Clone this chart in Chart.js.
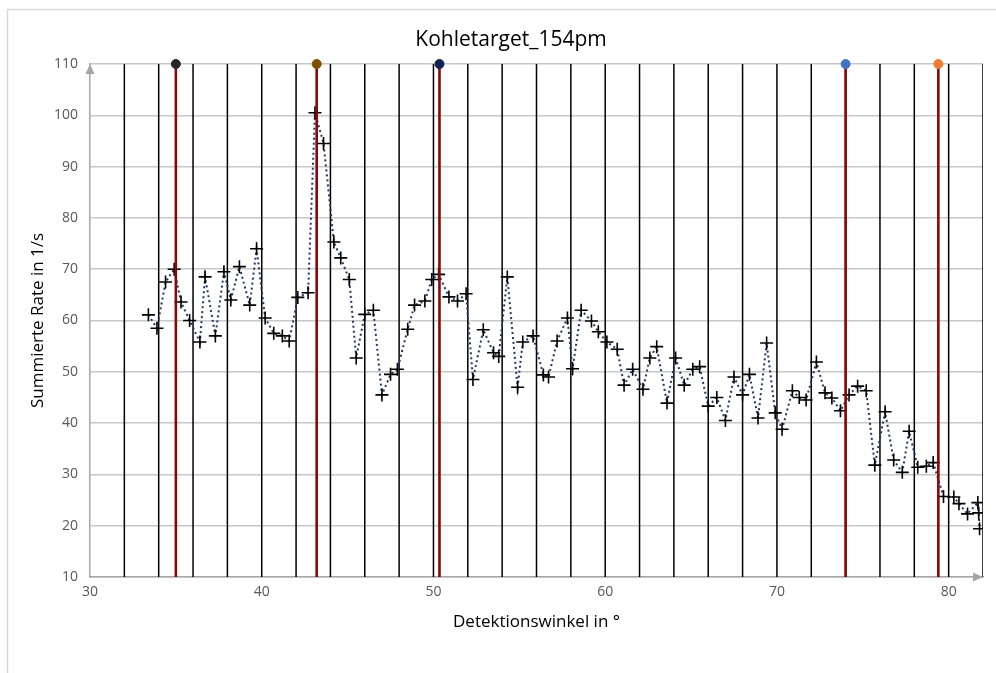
<!DOCTYPE html>
<html>
<head>
<meta charset="utf-8">
<script src="https://cdn.jsdelivr.net/npm/chart.js@4.4.1/dist/chart.umd.min.js"></script>
<style>
  html, body { margin: 0; padding: 0; background: #fff; }
  #wrap { width: 996px; height: 673px; position: relative; }
</style>
</head>
<body>
<div id="wrap"><canvas id="kohle"></canvas></div>
<script>
// measured angles (deg) and summed rates (1/s)
const angles = [33.4, 33.9, 34.4, 34.9, 35.3, 35.8, 36.4, 36.7, 37.3, 37.8, 38.2, 38.7, 39.3, 39.7,
  40.2, 40.7, 41.2, 41.6, 42.1, 42.7, 43.1, 43.6, 44.2, 44.6, 45.1, 45.5, 46.0, 46.5, 47.0, 47.5,
  47.9, 48.5, 48.9, 49.5, 49.9, 50.3, 50.9, 51.4, 51.9, 52.3, 52.9, 53.5, 53.8, 54.3, 54.9, 55.2,
  55.8, 56.4, 56.7, 57.2, 57.8, 58.1, 58.6, 59.2, 59.6, 60.1, 60.7, 61.1, 61.6, 62.2, 62.6, 63.0,
  63.6, 64.1, 64.6, 65.1, 65.5, 66.0, 66.5, 67.0, 67.5, 68.0, 68.4, 68.9, 69.4, 69.9, 70.3, 70.9,
  71.3, 71.7, 72.3, 72.8, 73.2, 73.7, 74.2, 74.7, 75.2, 75.7, 76.3, 76.8, 77.3, 77.7, 78.2, 78.7,
  79.1, 79.7, 80.3, 80.6, 81.1, 81.7, 81.75, 81.8];
const rates = [61.1, 58.5, 67.5, 70.0, 63.6, 60.0, 55.8, 68.5, 57.0, 69.5, 64.0, 70.5, 63.0, 74.0,
  60.5, 57.5, 57.0, 56.0, 64.5, 65.4, 100.5, 94.5, 75.3, 72.2, 68.0, 52.7, 61.2, 62.0, 45.5, 49.5,
  50.5, 58.3, 63.0, 63.8, 68.0, 69.0, 64.6, 63.8, 65.2, 48.5, 58.2, 53.7, 53.0, 68.5, 47.0, 55.8,
  57.0, 49.4, 49.0, 56.0, 60.5, 50.6, 62.0, 59.9, 57.8, 55.8, 54.4, 47.4, 50.5, 46.6, 52.7, 54.9,
  43.9, 52.7, 47.4, 50.5, 51.0, 43.3, 45.0, 40.5, 49.0, 45.5, 49.5, 41.0, 55.6, 42.0, 38.8, 46.3,
  45.0, 44.5, 51.9, 45.9, 44.9, 42.4, 45.5, 47.2, 46.3, 31.8, 42.2, 32.8, 30.4, 38.4, 31.4, 31.6,
  32.3, 25.7, 25.6, 24.3, 22.3, 24.5, 22.5, 19.4];

// vertical black lines every 2 degrees
const gridAngles = [32, 34, 36, 38, 40, 42, 44, 46, 48, 50, 52, 54, 56, 58, 60, 62, 64, 66, 68,
  70, 72, 74, 76, 78, 80, 82];
// red marker lines and their dot colours
const markerAngles = [35.0, 43.2, 50.35, 74.0, 79.4];
const markerColors = ['#262626', '#7f4f00', '#0e2352', '#4472c4', '#ed7d31'];

const yMin = 10, yMax = 110;
const chartTitle = 'Kohletarget_154pm';
const fontFam = '"Open Sans", "Noto Sans", sans-serif';

function verticals(list) {
  const pts = [];
  list.forEach(a => {
    pts.push({x: a, y: yMin});
    pts.push({x: a, y: yMax});
    pts.push({x: a, y: null});
  });
  return pts;
}

const frame = {
  id: 'frame',
  beforeDraw(chart) {
    const ctx = chart.ctx;
    ctx.save();
    ctx.strokeStyle = '#d9d9d9';
    ctx.lineWidth = 1.5;
    ctx.strokeRect(7.5, 9.5, 1100, 800);
    ctx.fillStyle = '#000';
    ctx.font = '21px ' + fontFam;
    ctx.textAlign = 'center';
    ctx.textBaseline = 'middle';
    ctx.fillText(chartTitle, 511, 40);
    ctx.restore();
  },
  afterDraw(chart) {
    const a = chart.chartArea;
    const ctx = chart.ctx;
    ctx.save();
    ctx.fillStyle = '#a6a6a6';
    ctx.beginPath();
    ctx.moveTo(a.left, a.top);
    ctx.lineTo(a.left - 4.5, a.top + 10);
    ctx.lineTo(a.left + 4.5, a.top + 10);
    ctx.closePath();
    ctx.fill();
    ctx.beginPath();
    ctx.moveTo(a.right, a.bottom);
    ctx.lineTo(a.right - 10, a.bottom - 4.5);
    ctx.lineTo(a.right - 10, a.bottom + 4.5);
    ctx.closePath();
    ctx.fill();
    ctx.restore();
  }
};

new Chart(document.getElementById('kohle'), {
  type: 'scatter',
  data: {
    datasets: [
      {
        label: 'Dots',
        data: markerAngles.map(a => ({x: a, y: yMax})),
        pointRadius: 4.5,
        pointBackgroundColor: markerColors,
        pointBorderColor: markerColors,
        clip: false,
        order: 0
      },
      {
        label: 'Marker',
        data: verticals(markerAngles),
        showLine: true,
        spanGaps: false,
        borderColor: '#860808',
        borderWidth: 2.6,
        pointRadius: 0,
        order: 1
      },
      {
        label: 'Rate',
        data: angles.map((a, i) => ({x: a, y: rates[i]})),
        showLine: true,
        borderColor: '#1f3864',
        borderWidth: 2,
        borderDash: [2, 3],
        pointStyle: 'cross',
        pointRadius: 6.5,
        pointBorderColor: '#000',
        pointBorderWidth: 1.6,
        order: 2
      },
      {
        label: 'Grid',
        data: verticals(gridAngles),
        showLine: true,
        spanGaps: false,
        borderColor: '#000',
        borderWidth: 1.5,
        pointRadius: 0,
        order: 3
      }
    ]
  },
  options: {
    responsive: true,
    maintainAspectRatio: false,
    animation: false,
    layout: { padding: { left: 8, right: 13, top: 64, bottom: 0 } },
    plugins: {
      legend: { display: false },
      tooltip: { enabled: false },
      title: { display: false }
    },
    scales: {
      x: {
        type: 'linear',
        min: 30,
        max: 82,
        afterFit(s) { s.height = 96; },
        ticks: { stepSize: 10, includeBounds: false, padding: 7, color: '#595959',
                 font: { family: fontFam, size: 14 } },
        grid: { display: true, color: 'rgba(0,0,0,0)', drawTicks: false },
        border: { display: true, color: '#a6a6a6', width: 1.5 },
        title: {
          display: true,
          text: 'Detektionswinkel in °',
          color: '#000',
          font: { family: fontFam, size: 17 },
          padding: { top: 0, bottom: 41 }
        }
      },
      y: {
        min: yMin,
        max: yMax,
        afterFit(s) { s.width = 82; },
        ticks: { stepSize: 10, padding: 12, color: '#595959',
                 font: { family: fontFam, size: 14 } },
        grid: { color: '#c8c8c8', lineWidth: 1.5, drawTicks: false },
        border: { display: true, color: '#a6a6a6', width: 1.5 },
        title: {
          display: true,
          text: 'Summierte Rate in 1/s',
          color: '#000',
          font: { family: fontFam, size: 17 },
          padding: { top: 20, bottom: 0 }
        }
      }
    }
  },
  plugins: [frame]
});
</script>
</body>
</html>
